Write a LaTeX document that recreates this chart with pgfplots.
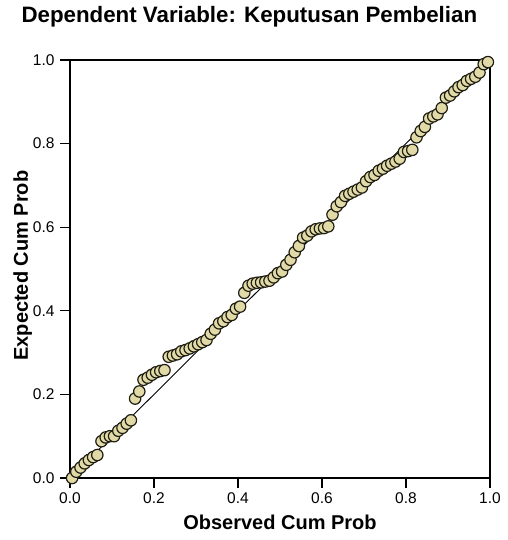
\documentclass[border=0pt]{standalone}
\usepackage{fontspec}
\setmainfont{Liberation Sans}
\usepackage{pgfplots}
\pgfplotsset{compat=1.18}
\definecolor{ptfill}{RGB}{226,218,166}
\definecolor{ptedge}{RGB}{30,30,20}
\begin{document}
\begin{tikzpicture}[x=1pt,y=1pt]
\useasboundingbox (0,0) rectangle (507,540);
\begin{axis}[
  at={(70pt,62pt)}, anchor=south west,
  scale only axis, width=420pt, height=418pt,
  xmin=0, xmax=1, ymin=0, ymax=1,
  clip=false,
  xtick={0,0.2,0.4,0.6,0.8,1}, ytick={0,0.2,0.4,0.6,0.8,1},
  xticklabels={0.0,0.2,0.4,0.6,0.8,1.0},
  yticklabels={0.0,0.2,0.4,0.6,0.8,1.0},
  xtick pos=bottom, ytick pos=left,
  tick align=outside, major tick length=10pt,
  tick style={line width=1.2pt, black},
  axis line style={line width=1.5pt},
  ticklabel style={font=\fontsize{15.5}{18}\selectfont},
  xticklabel style={yshift=-1pt},
  yticklabel style={xshift=-2pt},
]
\addplot[only marks, mark=*, mark size=5.7pt,
  mark options={fill=ptfill, draw=ptedge, line width=1.2pt}] coordinates {
(0.005,0.000) (0.015,0.015) (0.025,0.025) (0.035,0.035) (0.045,0.043)
(0.055,0.050) (0.065,0.055) (0.075,0.088) (0.085,0.097) (0.095,0.100)
(0.105,0.100) (0.115,0.113) (0.125,0.120) (0.135,0.130) (0.145,0.138)
(0.155,0.190) (0.165,0.207) (0.175,0.235) (0.185,0.240) (0.195,0.247)
(0.205,0.253) (0.215,0.256) (0.225,0.258) (0.235,0.290) (0.245,0.293)
(0.255,0.296) (0.265,0.303) (0.275,0.306) (0.285,0.310) (0.295,0.315)
(0.305,0.320) (0.315,0.325) (0.325,0.330) (0.335,0.345) (0.345,0.355)
(0.355,0.370) (0.365,0.375) (0.375,0.385) (0.385,0.390) (0.395,0.405)
(0.405,0.410) (0.415,0.443) (0.425,0.460) (0.435,0.465) (0.445,0.467)
(0.455,0.468) (0.465,0.470) (0.475,0.472) (0.485,0.480) (0.495,0.490)
(0.505,0.494) (0.515,0.510) (0.525,0.522) (0.535,0.540) (0.545,0.555)
(0.555,0.575) (0.565,0.580) (0.575,0.590) (0.585,0.595) (0.595,0.597)
(0.605,0.598) (0.615,0.602) (0.625,0.630) (0.635,0.650) (0.645,0.660)
(0.655,0.675) (0.665,0.680) (0.675,0.685) (0.685,0.690) (0.695,0.695)
(0.705,0.710) (0.715,0.720) (0.725,0.725) (0.735,0.735) (0.745,0.740)
(0.755,0.747) (0.765,0.752) (0.775,0.757) (0.785,0.764) (0.795,0.780)
(0.805,0.782) (0.815,0.785) (0.825,0.815) (0.835,0.830) (0.845,0.840)
(0.855,0.860) (0.865,0.865) (0.875,0.870) (0.885,0.885) (0.895,0.910)
(0.905,0.915) (0.915,0.925) (0.925,0.935) (0.935,0.940) (0.945,0.950)
(0.955,0.955) (0.965,0.960) (0.975,0.970) (0.985,0.990) (0.995,0.995)
};
\addplot[black, line width=0.9pt] coordinates {(0,0) (1,1)};
\node[anchor=base, font=\bfseries\fontsize{22.3}{26}\selectfont]
  at (axis description cs:0.427,1) [yshift=37pt] {Dependent Variable: Keputusan Pembelian};
\node[anchor=base, font=\bfseries\fontsize{20}{24}\selectfont]
  at (axis description cs:0.5,0) [yshift=-52pt] {Observed Cum Prob};
\node[xshift=-42pt, anchor=base, rotate=90, font=\bfseries\fontsize{20}{24}\selectfont]
  at (axis description cs:0,0.508) {Expected Cum Prob};
\end{axis}
\end{tikzpicture}
\end{document}
